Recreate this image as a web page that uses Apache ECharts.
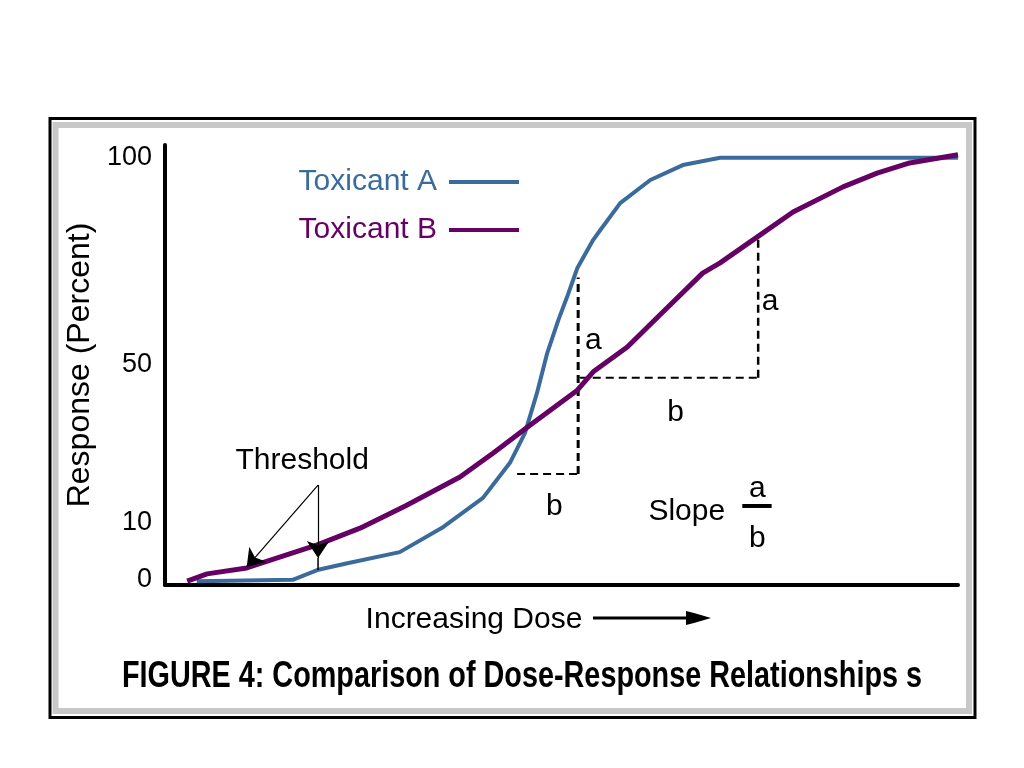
<!DOCTYPE html>
<html>
<head>
<meta charset="utf-8">
<script src="https://cdn.jsdelivr.net/npm/echarts@6/dist/echarts.min.js"></script>
<style>html,body{margin:0;padding:0;background:#fff;}#c{width:1024px;height:768px;}</style>
</head>
<body>
<div id="c"></div>
<script>
// ---- data ----
var doseA = [4.0, 16.1, 19.2, 23.0, 29.6, 35.1, 40.1, 43.5, 45.4, 46.9, 48.2, 49.6, 50.7, 52.0, 54.0, 54.9, 57.4, 61.2, 65.3, 70.0, 100];
var respA = [0.9, 1.2, 3.5, 5.1, 7.7, 13.6, 20.4, 28.6, 35.6, 44.9, 54.3, 62.0, 67.4, 74.2, 80.8, 83.1, 89.4, 94.8, 98.3, 100, 100];
var doseB = [2.8, 5.3, 10.3, 19.2, 24.6, 30.3, 37.2, 41.4, 45.6, 52.0, 54.0, 58.3, 62.4, 67.8, 70.0, 74.7, 79.2, 85.5, 89.8, 93.9, 100];
var respB = [0.9, 2.6, 4.0, 9.4, 13.3, 18.5, 25.3, 30.9, 36.8, 45.6, 49.9, 55.7, 63.2, 73.0, 75.4, 81.5, 87.3, 93.2, 96.4, 98.8, 100.7];
var seriesNames = ['Toxicant A', 'Toxicant B'];
var yTickLabels = [0, 10, 50, 100];

// slope guides (dose, response)
var guideA_b = [[44.4, 26.0], [52.1, 26.0]];
var guideA_a = [[52.1, 26.0], [52.1, 72.0]];
var guideB_b = [[52.3, 48.5], [74.8, 48.5]];
var guideB_a = [[74.8, 48.5], [74.8, 81.5]];
var fractionBar = [[72.8, 18.5], [76.5, 18.5]];

// annotation texts and their anchor (dose, response)
var annText = ['a', 'a', 'b', 'b', 'Slope', 'a', 'b', 'Threshold'];
var annDose = [54.0, 76.3, 64.4, 49.1, 65.8, 74.7, 74.7, 17.3];
var annResp = [57.1, 66.2, 40.3, 18.3, 17.1, 22.5, 10.8, 29.0];

// threshold pointers: [from, to]
var thresholdArrows = [
  [[19.3, 23.4], [10.3, 4.2]],
  [[19.3, 23.4], [19.3, 6.3]]
];
var thresholdStub = [[19.3, 6.3], [19.3, 3.5]];

var xAxisTitle = 'Increasing Dose';
var yAxisTitle = 'Response (Percent)';
var figTitle = 'FIGURE 4: Comparison of Dose-Response Relationships s';

// ---- chart ----
var FONT = '"Liberation Sans", Arial, sans-serif';
var BLUE = '#3b6b9b', PURPLE = '#650064';

function zip(xs, ys) { return xs.map(function (x, i) { return [x, ys[i]]; }); }
function guide(data, w) {
  return { type: 'line', data: data, symbol: 'none', silent: true, z: 1,
    lineStyle: { color: '#000', width: w, type: [8, 5] } };
}

var chart = echarts.init(document.getElementById('c'));
var rich = {
  v0: { fontSize: 27, fontFamily: FONT, color: '#000', padding: [0, 0, 10, 0] },
  v10: { fontSize: 27, fontFamily: FONT, color: '#000', padding: [0, 0, 40, 0] },
  v50: { fontSize: 27, fontFamily: FONT, color: '#000', padding: [0, 0, 14, 0] },
  v100: { fontSize: 27, fontFamily: FONT, color: '#000', padding: [0, 0, 0, 0] }
};

chart.setOption({
  animation: false,
  backgroundColor: '#fff',
  grid: { left: 165, right: 66, top: 145, bottom: 183 },
  legend: {
    orient: 'vertical', right: 500, top: 162, align: 'right',
    icon: 'rect', itemWidth: 70, itemHeight: 4, itemGap: 18,
    selectedMode: false,
    textStyle: { fontSize: 30, fontFamily: FONT, padding: [0, 7, 0, 0] },
    data: [
      { name: seriesNames[0], textStyle: { color: BLUE } },
      { name: seriesNames[1], textStyle: { color: PURPLE } }
    ]
  },
  xAxis: {
    type: 'value', min: 0, max: 100,
    name: xAxisTitle, nameLocation: 'middle', nameGap: 20,
    nameTextStyle: { fontSize: 30, fontFamily: FONT, color: '#000', padding: [0, 175, 0, 0] },
    axisLine: { show: true, lineStyle: { color: '#000', width: 4 } },
    axisTick: { show: false }, axisLabel: { show: false }, splitLine: { show: false }
  },
  yAxis: {
    type: 'value', min: 0, max: 103, interval: 10,
    name: yAxisTitle, nameLocation: 'middle', nameGap: 63,
    nameTextStyle: { fontSize: 32, fontFamily: FONT, color: '#000' },
    axisLine: { show: true, lineStyle: { color: '#000', width: 4 } },
    axisTick: { show: false }, splitLine: { show: false },
    axisLabel: {
      margin: 13, showMaxLabel: false,
      formatter: function (v) { return yTickLabels.indexOf(v) >= 0 ? '{v' + v + '|' + v + '}' : ''; },
      rich: rich
    }
  },
  series: [
    guide(guideA_b, 2), guide(guideA_a, 3), guide(guideB_b, 2), guide(guideB_a, 2.5),
    { name: seriesNames[0], type: 'line', data: zip(doseA, respA), symbol: 'none', z: 3,
      color: BLUE, lineStyle: { color: BLUE, width: 4 } },
    { name: seriesNames[1], type: 'line', data: zip(doseB, respB), symbol: 'none', z: 4,
      color: PURPLE, lineStyle: { color: PURPLE, width: 5 } },
    { type: 'line', data: fractionBar, symbol: 'none', silent: true, z: 5,
      lineStyle: { color: '#000', width: 4 } },
    { type: 'lines', coordinateSystem: 'cartesian2d', silent: true, z: 6,
      symbol: ['none', 'arrow'], symbolSize: 17,
      lineStyle: { color: '#000', width: 1.2, opacity: 1, curveness: 0 },
      data: thresholdArrows.map(function (c) { return { coords: c }; }) },
    { type: 'line', data: thresholdStub, symbol: 'none', silent: true, z: 6,
      lineStyle: { color: '#000', width: 1.5 } },
    { type: 'scatter', silent: true, symbolSize: 0, z: 7,
      itemStyle: { opacity: 1 },
      data: annText.map(function (t, i) { return { name: t, value: [annDose[i], annResp[i]] }; }),
      label: { show: true, position: 'inside', formatter: '{b}', fontSize: 30, fontFamily: FONT,
        color: '#000', opacity: 1, textBorderWidth: 0 } }
  ],
  graphic: [
    { type: 'rect', silent: true, z: -1, shape: { x: 50, y: 118.5, width: 925, height: 599 },
      style: { fill: 'none', stroke: '#000', lineWidth: 3 } },
    { type: 'rect', silent: true, z: -1, shape: { x: 55.5, y: 125, width: 913.5, height: 586 },
      style: { fill: 'none', stroke: '#c8c8c8', lineWidth: 6 } },
    { type: 'polyline', silent: true, shape: { points: [[593, 618], [690, 618]] },
      style: { stroke: '#000', lineWidth: 3 } },
    { type: 'polygon', silent: true, shape: { points: [[686, 611], [694, 613], [711, 618], [694, 623], [686, 625]] },
      style: { fill: '#000' } },
    { type: 'text', silent: true, x: 522, y: 677, scaleX: 0.8, scaleY: 1,
      style: { text: figTitle, fontSize: 36, fontWeight: 'bold', fontFamily: FONT, fill: '#000',
        align: 'center', verticalAlign: 'middle' } }
  ]
});
</script>
</body>
</html>
